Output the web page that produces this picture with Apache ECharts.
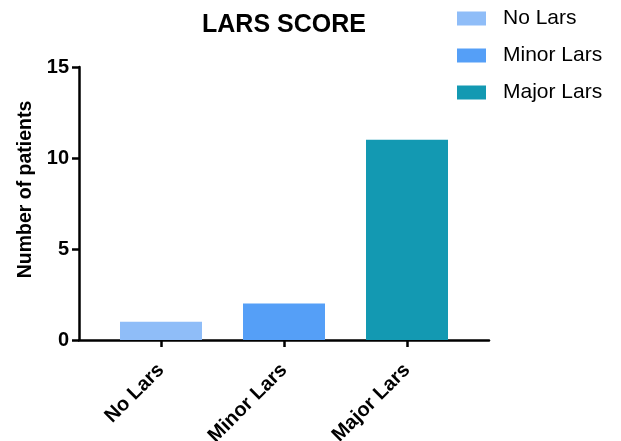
<!DOCTYPE html>
<html>
<head>
<meta charset="utf-8">
<script src="https://cdn.jsdelivr.net/npm/echarts@6/dist/echarts.min.js"></script>
<style>
  html, body { margin: 0; padding: 0; background: #fff; }
  #chart { width: 621px; height: 441px; }
</style>
</head>
<body>
<div id="chart"></div>
<script>
// LARS score groups and patient counts
const categories = ['No Lars', 'Minor Lars', 'Major Lars'];
const patientCounts = [1, 2, 11];
const barColors = ['#8fbdf8', '#559ff7', '#1399b2'];
const yTicks = { min: 0, max: 15, interval: 5 };

const FONT = '"Liberation Sans", Arial, Helvetica, sans-serif';

// One series per group so each gets its own legend entry; stacking keeps bars centred
const series = categories.map((name, i) => ({
  name: name,
  type: 'bar',
  stack: 'groups',
  xAxisIndex: 0,
  yAxisIndex: 0,
  barWidth: 82,
  itemStyle: { color: barColors[i] },
  data: categories.map((_, j) => (j === i ? patientCounts[i] : '-'))
}));

const chart = echarts.init(document.getElementById('chart'), null, { renderer: 'canvas' });
chart.setOption({
  animation: false,
  backgroundColor: '#fff',
  title: {
    text: 'LARS SCORE',
    left: 279,
    textAlign: 'center',
    top: 8,
    textStyle: { fontFamily: FONT, fontWeight: 'bold', fontSize: 25, color: '#000' }
  },
  legend: {
    orient: 'vertical',
    left: 452,
    top: 3,
    itemWidth: 29,
    itemHeight: 14,
    itemGap: 16,
    icon: 'rect',
    data: categories,
    textStyle: { fontFamily: FONT, fontSize: 21, color: '#000', lineHeight: 21, padding: [0, 0, 0, 12] }
  },
  grid: [
    // bar area: categories occupy the inner band
    { left: 99.5, right: 152.5, top: 67, bottom: 101, outerBoundsMode: 'none', containLabel: false },
    // frame: full-width axis lines
    { left: 79, right: 132, top: 67, bottom: 101, outerBoundsMode: 'none', containLabel: false }
  ],
  xAxis: [
    {
      type: 'category',
      gridIndex: 0,
      data: categories,
      axisLine: { show: false },
      axisTick: { show: true, alignWithLabel: true, length: 7, lineStyle: { color: '#000', width: 2.5 } },
      axisLabel: {
        rotate: 45,
        margin: 27,
        interval: 0,
        fontFamily: FONT, fontWeight: 'bold', fontSize: 20, color: '#000'
      }
    },
    {
      type: 'value',
      gridIndex: 1,
      min: 0, max: 1,
      axisLine: { show: true, onZero: false, lineStyle: { color: '#000', width: 2.5 } },
      axisTick: { show: false },
      axisLabel: { show: false },
      splitLine: { show: false }
    }
  ],
  yAxis: [
    {
      type: 'value',
      gridIndex: 0,
      min: yTicks.min, max: yTicks.max, interval: yTicks.interval,
      show: false
    },
    {
      type: 'value',
      gridIndex: 1,
      min: yTicks.min, max: yTicks.max, interval: yTicks.interval,
      name: 'Number of patients',
      nameLocation: 'middle',
      nameGap: 42,
      nameTextStyle: { fontFamily: FONT, fontWeight: 'bold', fontSize: 19.5, color: '#000', padding: [0, 0, 0, 28] },
      axisLine: { show: true, lineStyle: { color: '#000', width: 2.5 } },
      axisTick: { show: true, length: 7, lineStyle: { color: '#000', width: 2.5 } },
      axisLabel: { margin: 10, fontFamily: FONT, fontWeight: 'bold', fontSize: 20, color: '#000' },
      splitLine: { show: false }
    }
  ],
  series: series
});
</script>
</body>
</html>
